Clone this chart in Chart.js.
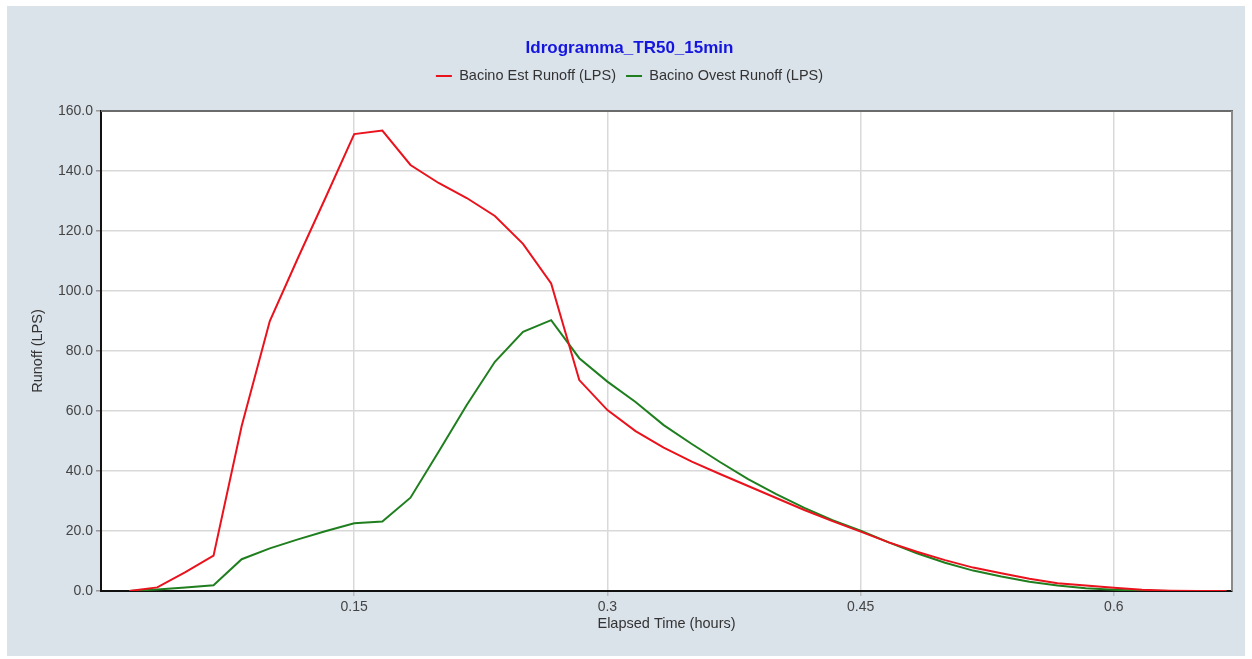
<!DOCTYPE html>
<html>
<head>
<meta charset="utf-8">
<script src="https://cdn.jsdelivr.net/npm/chart.js@4/dist/chart.umd.min.js"></script>
<style>
html,body{margin:0;padding:0;background:#ffffff;}
#wrap{position:absolute;left:0;top:0;width:1252px;height:659px;}
</style>
</head>
<body>
<div id="wrap"><canvas id="c" width="1252" height="659"></canvas></div>
<script>
// Elapsed time (minutes) of each sample
const minutes = [1,2,3,4,5,6,7,8,9,10,11,12,13,14,15,16,17,18,19,20,21,22,23,24,25,26,27,28,29,30,31,32,33,34,35,36,37,38,39,40];
// Bacino Est Runoff (LPS)
const estRunoff = [0,1.2,6.3,11.8,55,90,111,131.5,152.3,153.5,142,136,131,125,115.7,102.5,70.3,60.3,53.3,47.8,43.1,39,35,31,27,23.3,19.8,16.2,13.1,10.3,7.8,5.9,4.1,2.6,1.8,1.1,0.4,0.1,0,0];
// Bacino Ovest Runoff (LPS)
const ovestRunoff = [0,0.5,1.2,1.9,10.6,14.2,17.2,20,22.6,23.2,31.1,46.4,62,76.4,86.4,90.3,77.6,69.8,63,55.3,49,43,37.3,32.3,27.7,23.6,20.1,16.2,12.6,9.4,6.8,4.8,3.1,1.8,0.9,0.4,0.1,0,0,0];
const xTickValues = [0.15, 0.3, 0.45, 0.6];
const yTickValues = [0, 20, 40, 60, 80, 100, 120, 140, 160];
const seriesNames = ['Bacino Est Runoff (LPS)', 'Bacino Ovest Runoff (LPS)'];
const chartTitle = 'Idrogramma_TR50_15min';

Chart.defaults.font.family = "'Liberation Sans', Arial, Helvetica, sans-serif";

const RED = '#ea121c';
const GREEN = '#1f7f1f';

const toPoints = (vals) => vals.map((v, i) => ({x: minutes[i] / 60, y: v}));

const bgPlugin = {
  id: 'bgPlugin',
  beforeDraw(chart) {
    const ctx = chart.ctx;
    const a = chart.chartArea;
    ctx.save();
    ctx.fillStyle = '#ffffff';
    ctx.fillRect(0, 0, chart.width, chart.height);
    ctx.fillStyle = '#dae2ea';
    ctx.fillRect(7, 6, 1238, 650);
    ctx.fillStyle = '#ffffff';
    ctx.fillRect(a.left, a.top, a.right - a.left, a.bottom - a.top);
    ctx.restore();
  },
  afterDraw(chart) {
    const ctx = chart.ctx;
    const a = chart.chartArea;
    ctx.save();
    ctx.lineWidth = 2;
    ctx.strokeStyle = '#6b6b6b';
    ctx.beginPath();
    ctx.moveTo(a.left, a.top);
    ctx.lineTo(a.right + 1, a.top);
    ctx.stroke();
    ctx.strokeStyle = '#8a8a8a';
    ctx.beginPath();
    ctx.moveTo(a.right, a.top);
    ctx.lineTo(a.right, a.bottom);
    ctx.stroke();
    ctx.restore();
  }
};

const defaultGen = Chart.defaults.plugins.legend.labels.generateLabels;

new Chart(document.getElementById('c'), {
  type: 'line',
  data: {
    datasets: [
      {label: seriesNames[0], data: toPoints(estRunoff), borderColor: RED, backgroundColor: RED, borderWidth: 2, pointRadius: 0, fill: false, tension: 0},
      {label: seriesNames[1], data: toPoints(ovestRunoff), borderColor: GREEN, backgroundColor: GREEN, borderWidth: 2, pointRadius: 0, fill: false, tension: 0}
    ]
  },
  options: {
    responsive: false,
    animation: false,
    devicePixelRatio: 1,
    layout: {padding: {left: 27, right: 20, top: 0, bottom: 0}},
    plugins: {
      title: {
        display: true, text: chartTitle, color: '#1515e0',
        font: {size: 17, weight: 'bold'},
        padding: {top: 37.8, bottom: 0.55}
      },
      subtitle: {
        display: true, text: '', weight: 500,
        font: {size: 10}, padding: {top: 0, bottom: 5.75}
      },
      legend: {
        display: true, position: 'top',
        labels: {
          color: '#333333', font: {size: 14.5},
          boxWidth: 16, boxHeight: 2, padding: 10,
          generateLabels(chart) {
            return defaultGen(chart).map(l => Object.assign(l, {lineWidth: 0}));
          }
        }
      },
      tooltip: {enabled: false}
    },
    scales: {
      x: {
        type: 'linear', min: 0, max: 0.67,
        afterBuildTicks(scale) { scale.ticks = xTickValues.map(v => ({value: v})); },
        afterFit(scale) { scale.height = 68; },
        ticks: {color: '#444444', font: {size: 14}, padding: 3, maxRotation: 0, autoSkip: false,
          callback: (v) => String(v)},
        grid: {color: '#d9d9d9', lineWidth: 1.5, tickLength: 5, tickColor: '#bbbbbb'},
        border: {color: '#111111', width: 2},
        title: {display: true, text: 'Elapsed Time (hours)', color: '#333333', font: {size: 14.5}, padding: {top: 0, bottom: 26.5}}
      },
      y: {
        type: 'linear', min: 0, max: 160,
        afterBuildTicks(scale) { scale.ticks = yTickValues.map(v => ({value: v})); },
        afterFit(scale) { scale.width = 74; },
        ticks: {color: '#444444', font: {size: 14}, padding: 3,
          callback: (v) => Number(v).toFixed(1)},
        grid: {color: '#d9d9d9', lineWidth: 1.5, tickLength: 5, tickColor: '#999999'},
        border: {color: '#111111', width: 2},
        title: {display: true, text: 'Runoff (LPS)', color: '#333333', font: {size: 14.5}, padding: {top: 2.3, bottom: 0}}
      }
    }
  },
  plugins: [bgPlugin]
});
</script>
</body>
</html>
